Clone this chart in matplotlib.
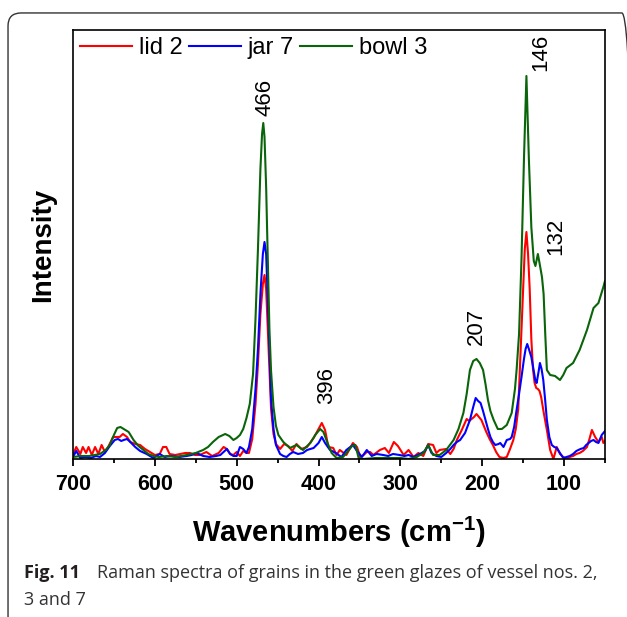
import matplotlib
matplotlib.use('Agg')
import matplotlib.pyplot as plt
from matplotlib.patches import FancyBboxPatch
from matplotlib.ticker import MultipleLocator

plt.rcParams['font.family'] = ['Liberation Sans', 'DejaVu Sans']
plt.rcParams['mathtext.fontset'] = 'custom'
plt.rcParams['mathtext.rm'] = 'Liberation Sans'
plt.rcParams['mathtext.bf'] = 'Liberation Sans:bold'

# Raman spectra, wavenumber (cm-1) vs intensity (a.u.)
wn_bowl = [700, 690, 680, 667, 660, 655, 650, 646, 642, 638, 632, 626, 620, 614, 608, 602, 595, 585, 575, 561,
           550, 541, 535, 529, 522, 514, 509, 504, 500, 496, 492, 488, 484, 480, 477, 474, 471, 469, 467.5, 466,
           464, 462, 460, 458, 455, 452, 449, 443, 435, 427, 419, 410, 404, 398, 394, 389, 384, 378, 370, 364,
           359, 355, 351, 345, 330, 313, 300, 290, 280, 272, 266, 260, 252, 244, 235, 229, 223, 219, 215, 211,
           207, 203, 199, 196, 193, 190, 186, 181, 176, 170, 164, 160, 158, 155, 152, 149, 146, 143, 140, 137,
           135, 132, 130, 127, 125, 123, 121, 117, 111, 105, 101, 97, 89, 81, 72, 64, 58, 52, 50]
int_bowl = [2, 3, 3, 5, 9, 14, 24, 31, 32, 30, 27, 19, 13, 9, 5, 3, 2, 3, 2, 4,
            6, 9, 12, 17, 22, 25, 23, 19, 21, 24, 30, 41, 55, 85, 140, 210, 290, 325, 336, 322,
            272, 200, 130, 88, 52, 33, 24, 17, 11, 14, 9, 16, 24, 30, 27, 16, 6, 1, 2, 8,
            13, 14, 1, 0, 1, 1, 1, 0, 2, 6, 14, 4, 4, 9, 19, 30, 46, 65, 89, 98,
            100, 96, 89, 75, 59, 48, 39, 30, 30, 34, 46, 70, 89, 125, 200, 300, 383, 300, 232, 198,
            193, 205, 196, 182, 165, 125, 89, 84, 83, 79, 84, 91, 96, 109, 129, 151, 156, 172, 178]

wn_lid = [700, 696, 691, 688, 684, 681, 677, 673, 669, 665, 661, 657, 651, 647, 643, 639, 634, 630, 624, 618,
          612, 606, 600, 594, 590, 586, 582, 575, 569, 563, 557, 551, 545, 537, 530, 522, 516, 512, 508, 504,
          500, 496, 492, 488, 485, 481, 477, 474, 471, 468, 466, 464, 462, 460, 458, 455, 452, 447, 442, 437,
          432, 427, 421, 414, 406, 400, 396, 392, 388, 382, 378, 374, 366, 362, 358, 353, 349, 345, 341, 337,
          333, 325, 319, 314, 308, 303, 296, 290, 284, 278, 272, 266, 260, 256, 252, 244, 239, 235, 231, 225,
          219, 216, 213, 210, 207, 204, 201, 198, 195, 191, 187, 183, 179, 174, 170, 166, 162, 159, 156, 153,
          150, 148, 146, 144, 142, 140, 138, 136, 134, 132, 130, 128, 125, 121, 117, 113, 109, 105, 101, 97,
          93, 89, 85, 81, 77, 72, 69, 66, 62, 58, 54, 52, 50]
int_lid = [4, 12, 5, 12, 6, 12, 4, 12, 5, 14, 7, 12, 22, 22, 22, 25, 22, 17, 15, 14,
           10, 7, 4, 5, 12, 12, 5, 4, 5, 6, 6, 4, 4, 7, 3, 6, 12, 10, 5, 4,
           7, 3, 8, 6, 6, 20, 55, 95, 145, 175, 184, 170, 130, 90, 50, 25, 15, 10, 15, 13,
           8, 15, 10, 12, 21, 30, 36, 29, 12, 11, 4, 9, 4, 10, 16, 12, 2, 4, 7, 7,
           4, 9, 11, 6, 17, 13, 4, 9, 2, 6, 3, 15, 14, 6, 9, 10, 5, 10, 19, 29,
           40, 38, 40, 42, 45, 42, 39, 33, 27, 20, 14, 7, 2, 1, 2, 10, 19, 30, 50, 110,
           170, 210, 227, 205, 170, 120, 90, 76, 71, 70, 68, 62, 47, 29, 9, 0, 12, 5, 2, 0,
           2, 3, 5, 6, 8, 12, 20, 29, 22, 17, 22, 16, 18]

wn_jar = [700, 696, 691, 685, 678, 672, 667, 661, 655, 649, 645, 641, 638, 634, 630, 624, 618, 610, 602, 594,
          588, 580, 570, 561, 555, 549, 541, 533, 525, 520, 516, 512, 508, 504, 500, 496, 492, 488, 485, 481,
          477, 474, 471, 468, 466, 464, 462, 460, 458, 455, 452, 447, 443, 439, 435, 431, 425, 419, 414, 406,
          400, 396, 392, 386, 379, 372, 366, 358, 353, 347, 341, 335, 329, 321, 315, 309, 301, 295, 290, 284,
          276, 270, 266, 262, 256, 250, 244, 239, 235, 231, 227, 221, 215, 211, 208, 205, 202, 199, 196, 193,
          190, 187, 184, 180, 178, 174, 170, 166, 164, 161, 158, 155, 152, 149, 147, 145, 143, 140, 137, 135,
          133.5, 131, 129.5, 127.5, 125.4, 123, 121, 118, 115, 112, 109, 105, 101, 97, 93, 89, 85, 80, 76, 73,
          70, 67, 64, 61, 58, 56, 54, 52, 50]
int_jar = [2, 8, 1, 2, 1, 3, 2, 6, 13, 19, 20, 18, 19, 20, 17, 12, 8, 5, 1, 5,
           2, 3, 2, 3, 4, 6, 3, 2, 3, 4, 7, 10, 5, 3, 3, 12, 10, 6, 12, 30,
           70, 110, 165, 205, 217, 205, 160, 110, 60, 30, 14, 5, 3, 2, 5, 7, 5, 6, 9, 11,
           16, 22, 16, 9, 6, 2, 9, 14, 8, 2, 9, 3, 5, 4, 3, 5, 4, 3, 4, 2,
           5, 8, 14, 6, 3, 2, 6, 10, 14, 17, 19, 26, 39, 52, 61, 58, 56, 48, 39, 30,
           22, 17, 14, 15, 16, 12, 19, 20, 22, 32, 49, 65, 82, 100, 110, 115, 110, 102, 88, 78,
           76, 88, 96, 90, 79, 58, 39, 22, 14, 12, 11, 6, 1, 2, 3, 5, 8, 10, 11, 14,
           16, 18, 19, 17, 16, 20, 24, 26, 28]

# band labels
peak_labels = ['466', '396', '207', '146', '132']
peak_x = [465.4, 389.7, 207.6, 128.2, 110]
peak_y = [362, 73, 133, 407, 223]

fig = plt.figure(figsize=(6.27, 6.17), dpi=100)
ax = fig.add_axes([0.1164, 0.2561, 0.8485, 0.6953])

ax.plot(wn_lid, int_lid, color='#ff0000', lw=1.5, label='lid 2')
ax.plot(wn_jar, int_jar, color='#0000ff', lw=1.5, label='jar 7')
ax.plot(wn_bowl, int_bowl, color='#0a640a', lw=1.5, label='bowl 3')

for lab, px, py in zip(peak_labels, peak_x, peak_y):
    ax.text(px, py, lab, rotation=90, ha='center', va='center', fontsize=16)

ax.set_xlim(700, 50)
ax.set_ylim(0, 429)
ax.xaxis.set_major_locator(MultipleLocator(100))
ax.xaxis.set_minor_locator(MultipleLocator(50))
ax.tick_params(axis='x', which='major', direction='out', length=5, width=1.3, pad=6,
               labelsize=15.5)
ax.tick_params(axis='x', which='minor', direction='out', length=3, width=1.3)
for t in ax.get_xticklabels():
    t.set_fontweight('bold')
ax.set_yticks([])
for s in ax.spines.values():
    s.set_linewidth(1.2)

ax.set_xlabel(r'Wavenumbers (cm$^{\mathbf{-1}}$)', fontsize=21, fontweight='bold', labelpad=14)
ax.set_ylabel('Intensity', fontsize=20, fontweight='bold', labelpad=12)

ax.legend(loc='upper left', ncol=3, frameon=False, fontsize=17, handlelength=2.2,
          handletextpad=0.3, columnspacing=0.25, borderaxespad=0.1, borderpad=0.2)

# rounded frame and caption
frame = FancyBboxPatch((0.0128, -0.02), 1.0, 0.999, boxstyle='round,pad=0,rounding_size=0.021',
                       transform=fig.transFigure, fill=False, ec='#333333', lw=1.0)
fig.patches.append(frame)
fig.text(24 / 627, 1 - 573 / 617, 'Fig. 11', fontsize=13, fontweight='bold', family='Open Sans',
         color='#231f20', va='center')
fig.text(97 / 627, 1 - 573 / 617, 'Raman spectra of grains in the green glazes of vessel nos. 2,',
         fontsize=13, family='Open Sans', color='#333333', va='center')
fig.text(24 / 627, 1 - 600 / 617, '3 and 7', fontsize=13, family='Open Sans', color='#333333', va='center')

plt.savefig('out.png', dpi=100)
